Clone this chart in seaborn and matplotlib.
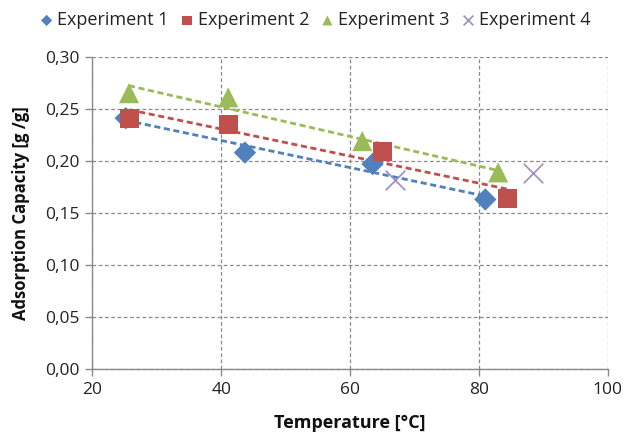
import matplotlib
matplotlib.use("Agg")
import matplotlib.pyplot as plt
import seaborn as sns
import numpy as np
from matplotlib.ticker import FuncFormatter, MultipleLocator

# Data
exp1_temp = [25.2, 43.7, 63.5, 81.0]
exp1_cap = [0.241, 0.208, 0.197, 0.163]
exp2_temp = [25.8, 41.2, 65.1, 84.4]
exp2_cap = [0.241, 0.235, 0.209, 0.164]
exp3_temp = [25.7, 41.1, 61.9, 83.0]
exp3_cap = [0.265, 0.261, 0.219, 0.189]
exp4_temp = [67.0, 88.4]
exp4_cap = [0.182, 0.188]

labels = ["Experiment 1", "Experiment 2", "Experiment 3", "Experiment 4"]
colors = ["#4F81BD", "#C0504D", "#9BBB59", "#A08CC4"]

sns.set_theme(style="white")
plt.rcParams['font.family'] = ['Open Sans', 'DejaVu Sans']

fig, ax = plt.subplots(figsize=(6.26, 4.41), dpi=100)
fig.subplots_adjust(left=0.1474, right=0.9708, top=0.8714, bottom=0.1626)

series = [
    (exp1_temp, exp1_cap, "D", 130, True),
    (exp2_temp, exp2_cap, "s", 190, True),
    (exp3_temp, exp3_cap, "^", 210, True),
    (exp4_temp, exp4_cap, "x", 200, False),
]

# trend lines first (behind markers)
for (t, c, m, s, trend), col in zip(series, colors):
    if trend:
        sns.regplot(x=np.array(t), y=np.array(c), ax=ax, scatter=False, ci=None,
                    truncate=True, color=col,
                    line_kws=dict(linestyle=(0, (2.2, 1.3)), linewidth=2.0, zorder=2))

for (t, c, m, s, trend), col, lab in zip(series, colors, labels):
    if m == "x":
        sns.scatterplot(x=t, y=c, ax=ax, marker=m, s=s, color=col, linewidth=1.2,
                        label=lab, zorder=3)
    else:
        sns.scatterplot(x=t, y=c, ax=ax, marker=m, s=s, color=col, edgecolor="none",
                        label=lab, zorder=3)

ax.set_xlim(20, 100)
ax.set_ylim(0, 0.30)
ax.xaxis.set_major_locator(MultipleLocator(20))
ax.yaxis.set_major_locator(MultipleLocator(0.05))
ax.yaxis.set_major_formatter(FuncFormatter(lambda v, p: f"{v:.2f}".replace('.', ',')))

ax.grid(True, color="#8a8a8a", linestyle=(0, (3, 2)), linewidth=0.9)
ax.set_axisbelow(True)
for sp in ["top", "right"]:
    ax.spines[sp].set_visible(False)
for sp in ["left", "bottom"]:
    ax.spines[sp].set_color("#8a8a8a")
    ax.spines[sp].set_linewidth(1.0)
ax.tick_params(axis="both", which="major", direction="out", length=5, width=1,
               color="#8a8a8a", labelsize=12.5, labelcolor="#222222", pad=4,
               bottom=True, left=True)

ax.set_xlabel("Temperature [°C]", fontsize=13, fontweight="bold", color="#111111", labelpad=12)
ax.set_ylabel("Adsorption Capacity [g /g]", fontsize=12, fontweight="bold", color="#111111", labelpad=11)

leg = ax.legend(loc="lower center", bbox_to_anchor=(0.43, 1.065), ncol=4, frameon=False,
                fontsize=13, handletextpad=0.1, columnspacing=0.5, markerscale=0.5,
                borderaxespad=0.0, handlelength=1.0)
for txt in leg.get_texts():
    txt.set_color("#222222")

fig.savefig("out.png", dpi=100)
